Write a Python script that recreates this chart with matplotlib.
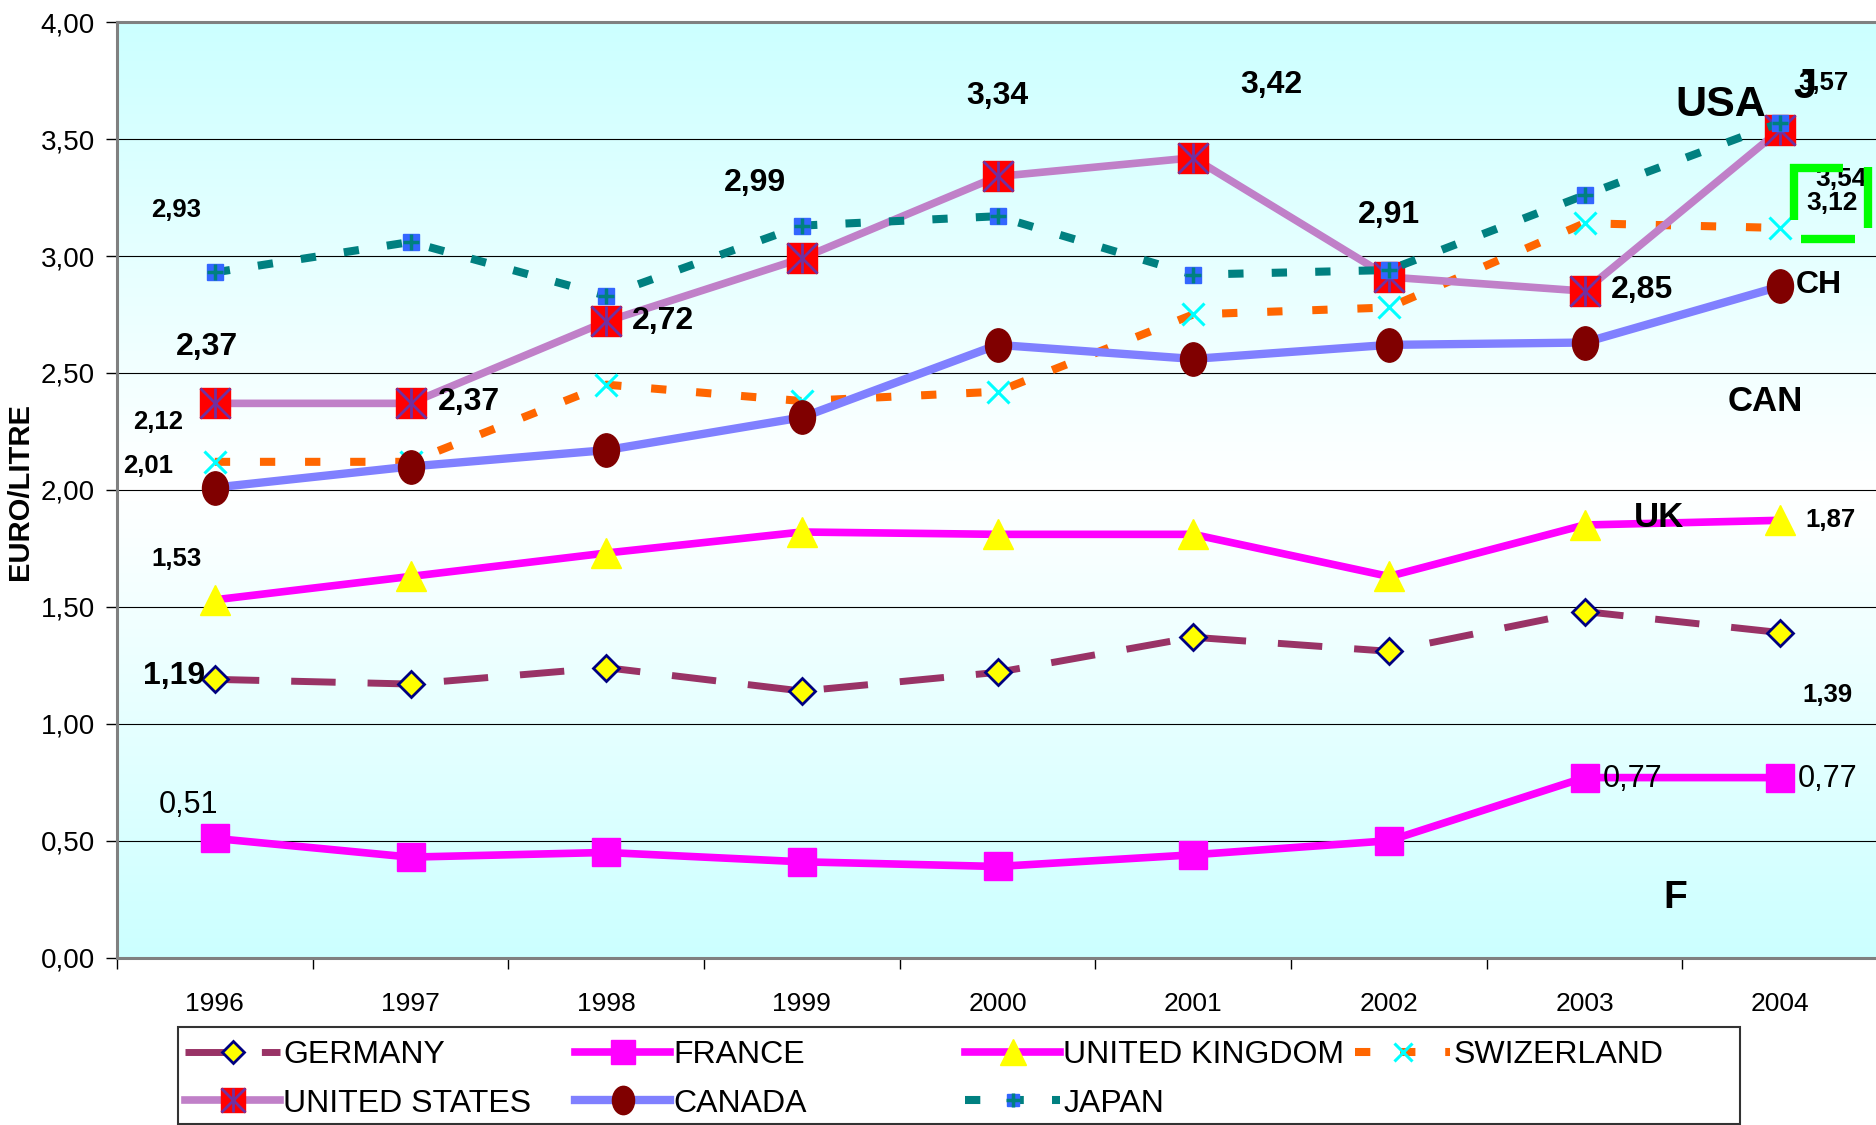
import numpy as np
import matplotlib
matplotlib.use("Agg")
import matplotlib.pyplot as plt
from matplotlib import font_manager
from matplotlib.colors import LinearSegmentedColormap
from matplotlib.lines import Line2D
from matplotlib.patches import Rectangle
from matplotlib.path import Path
from matplotlib.transforms import Affine2D
from matplotlib.ticker import FuncFormatter, FixedLocator

# data (EURO/LITRE)
years = ['1996', '1997', '1998', '1999', '2000', '2001', '2002', '2003', '2004']
germany = [1.19, 1.17, 1.24, 1.14, 1.22, 1.37, 1.31, 1.48, 1.39]
france = [0.51, 0.43, 0.45, 0.41, 0.39, 0.44, 0.50, 0.77, 0.77]
uk = [1.53, 1.63, 1.73, 1.82, 1.81, 1.81, 1.63, 1.85, 1.87]
swiss = [2.12, 2.12, 2.45, 2.38, 2.42, 2.75, 2.78, 3.14, 3.12]
usa = [2.37, 2.37, 2.72, 2.99, 3.34, 3.42, 2.91, 2.85, 3.54]
canada = [2.01, 2.10, 2.17, 2.31, 2.62, 2.56, 2.62, 2.63, 2.87]
japan = [2.93, 3.06, 2.83, 3.13, 3.17, 2.92, 2.94, 3.26, 3.57]

names = {f.name for f in font_manager.fontManager.ttflist}
FONT = 'Liberation Sans Narrow' if 'Liberation Sans Narrow' in names else 'Liberation Sans'
plt.rcParams['font.family'] = [FONT, 'DejaVu Sans']

W, H = 1876, 1125
PT = 72 / 100  # px -> points


def fmt(v):
    return f"{v:.2f}".replace('.', ',')


fig = plt.figure(figsize=(W / 100, H / 100), dpi=100)
ax = fig.add_axes([117 / W, 1 - 957.7 / H, 1761 / W, (957.7 - 22.1) / H])
x = np.arange(len(years))
ax.set_xlim(-0.5, 8.5)
ax.set_ylim(0, 4)

# background gradient: cyan at top and bottom, white in the middle
cmap = LinearSegmentedColormap.from_list('bg', ['#FFFFFF', '#CCFFFF'])
grad = np.abs(np.linspace(-1, 1, 400))[:, None]
ax.imshow(grad, extent=[-0.5, 8.5, 0, 4], aspect='auto', cmap=cmap, zorder=0, origin='lower')

ax.yaxis.set_major_locator(FixedLocator(np.arange(0, 4.01, 0.5)))
ax.yaxis.set_major_formatter(FuncFormatter(lambda v, p: fmt(v)))
for v in np.arange(0.5, 3.6, 0.5):
    ax.axhline(v, color='black', lw=0.8, zorder=1)

# series, drawn in legend order
ellipse = Path.unit_circle().transformed(Affine2D().scale(0.78, 1.0))

g_h, = ax.plot(x, germany, color='#993366', lw=5, dashes=(6.4, 4.6), marker='D', ms=13,
               mfc='#FFFF00', mec='#000080', mew=2, zorder=3)
fr_h, = ax.plot(x, france, color='#FF00FF', lw=5.5, marker='s', ms=19.5,
                mfc='#FF00FF', mec='#FF00FF', zorder=3)
uk_h, = ax.plot(x, uk, color='#FF00FF', lw=5.5, marker='^', ms=22,
                mfc='#FFFF00', mec='#FFFF00', zorder=3)
sw_h, = ax.plot(x, swiss, color='#FF6600', lw=5.8, dashes=(1.9, 3.7), marker='x', ms=16,
                mec='#00FFFF', mew=2.2, zorder=3)
us_h, = ax.plot(x, usa, color='#C080C8', lw=5.5, marker='s', ms=21,
                mfc='#FF0000', mec='#FF0000', zorder=3)
us_x, = ax.plot(x, usa, ls='none', marker='x', ms=21, mec='#7030A0', mew=2, zorder=3)
us_v, = ax.plot(x, usa, ls='none', marker='|', ms=21, mec='#7030A0', mew=2, zorder=3)
ca_h, = ax.plot(x, canada, color='#8080FF', lw=6, marker=ellipse, ms=24,
                mfc='#800000', mec='#800000', zorder=3)
jp_h, = ax.plot(x, japan, color='#008080', lw=5.8, dashes=(1.9, 3.5), marker='s', ms=11,
                mfc='#3366FF', mec='#3366FF', zorder=3)
jp_p, = ax.plot(x, japan, ls='none', marker='+', ms=12, mec='#008080', mew=2.5, zorder=3)

# axes styling
ax.spines['right'].set_visible(False)
for s in ['left', 'bottom', 'top']:
    ax.spines[s].set_color('#808080')
    ax.spines[s].set_linewidth(2.2)
    ax.spines[s].set_zorder(4)
ax.set_xticks(x)
ax.set_xticklabels(years)
ax.set_xticks(np.arange(-0.5, 8.6, 1), minor=True)
ax.tick_params(axis='x', which='major', length=0, pad=25, labelsize=19)
ax.tick_params(axis='x', which='minor', length=8, width=1, color='black', direction='out')
ax.tick_params(axis='y', length=8, width=1, color='black', direction='out', pad=8, labelsize=20)
fig.text(20 / W, 1 - 492 / H, 'EURO/LITRE', rotation=90, ha='center', va='center',
         fontsize=21, fontweight='bold')


def label(series, i, dx, dy, size, weight='bold', text=None, ha='center'):
    t = fmt(series[i]) if text is None else text
    ax.annotate(t, (i, series[i]), xytext=(dx * PT, dy * PT), textcoords='offset points',
                ha=ha, va='center', fontsize=size, fontweight=weight,
                annotation_clip=False, zorder=5)


# value labels (offsets in px from the point)
label(japan, 0, -39, 62, 18.5)
label(usa, 0, -8, 56, 23)
label(swiss, 0, -57, 40, 18.5)
label(canada, 0, -67, 22, 18.5)
label(uk, 0, -38, 41, 18.5)
label(germany, 0, -10, 3, 23, ha='right')
label(france, 0, -26, 33, 22, weight='normal')
label(usa, 1, 58, 1, 23)
label(usa, 2, 57, 0, 23)
label(usa, 3, -47, 75, 23)
label(usa, 4, 0, 80, 23)
label(usa, 5, 78, 73, 23)
label(usa, 6, 0, 62, 23)
label(usa, 7, 57, 1, 23)
label(france, 7, 18, -1, 22, weight='normal', ha='left')
label(france, 8, 18, -1, 22, weight='normal', ha='left')
label(uk, 8, 50, 0, 18.5)
label(germany, 8, 47, -62, 18.5)
label(japan, 8, 43, 40, 18.5)
label(usa, 8, 61, -49, 19)
label(swiss, 8, 52, 25, 19)

# country tags
label(usa, 8, -59, 25, 31, text='USA')
label(japan, 8, 25, 36, 30, text='J')
label(canada, 8, 39, 1, 23, text='CH')
label(canada, 8, -15, -115, 25, text='CAN')
label(uk, 8, -121, 3, 25, text='UK')
label(france, 8, -105, -120, 28, text='F')

# green bracket around the last labels
green = [((1794, 1794), (164, 220)), ((1790, 1843), (168, 168)),
         ((1868, 1868), (167, 228)), ((1801, 1855), (238.5, 238.5))]
for xs, ys in green:
    fig.add_artist(Line2D([v / W for v in xs], [1 - v / H for v in ys], color='#00FF00',
                          lw=6, solid_capstyle='butt', transform=fig.transFigure, zorder=6))

# legend: frame + four equal-width columns
fig.add_artist(Rectangle((178 / W, 1 - 1124 / H), (1740 - 178) / W, (1124 - 1027) / H,
                         transform=fig.transFigure, fill=False, edgecolor='#333333', lw=1.5))
cols = [[(g_h, 'GERMANY'), ((us_h, us_x, us_v), 'UNITED STATES')],
        [(fr_h, 'FRANCE'), (ca_h, 'CANADA')],
        [(uk_h, 'UNITED KINGDOM'), ((jp_h, jp_p), 'JAPAN')],
        [(sw_h, 'SWIZERLAND')]]
col_x = [185, 575, 965, 1355]
for cx, col in zip(col_x, cols):
    fig.legend([h for h, _ in col], [l for _, l in col], loc='upper left',
               bbox_to_anchor=(cx / W, 1 - 1040 / H), frameon=False, borderpad=0,
               borderaxespad=0, handlelength=2.98, handletextpad=0.1, labelspacing=0.58,
               fontsize=23, numpoints=1, markerscale=0.85)

fig.savefig('out.png', dpi=100)
